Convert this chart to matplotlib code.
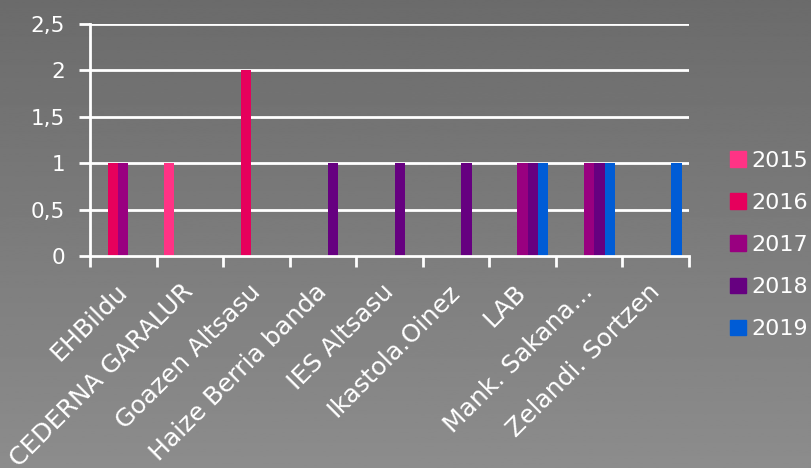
import numpy as np
import matplotlib
matplotlib.use("Agg")
import matplotlib.pyplot as plt
from matplotlib.patches import Patch

categories = ["EHBildu", "CEDERNA GARALUR", "Goazen Altsasu", "Haize Berria banda",
              "IES Altsasu", "Ikastola.Oinez", "LAB", "Mank. Sakana…", "Zelandi. Sortzen"]
years = ["2015", "2016", "2017", "2018", "2019"]
v2015 = [0, 1, 0, 0, 0, 0, 0, 0, 0]
v2016 = [1, 0, 2, 0, 0, 0, 0, 0, 0]
v2017 = [1, 0, 0, 0, 0, 0, 1, 1, 0]
v2018 = [0, 0, 0, 1, 1, 1, 1, 1, 0]
v2019 = [0, 0, 0, 0, 0, 0, 1, 1, 1]
series = [v2015, v2016, v2017, v2018, v2019]
colors = ["#ff3385", "#e6005c", "#990080", "#660080", "#005cd6"]
y_ticks = [0, 0.5, 1, 1.5, 2, 2.5]
y_labels = ["0", "0,5", "1", "1,5", "2", "2,5"]

plt.rcParams['font.family'] = ['DejaVu Sans']

fig = plt.figure(figsize=(8.12, 4.68), dpi=100)

# gradient background
bg = fig.add_axes([0, 0, 1, 1], zorder=-10)
grad = np.linspace(0.42, 0.55, 256).reshape(-1, 1)
bg.imshow(grad, aspect='auto', cmap='gray', vmin=0, vmax=1, extent=[0, 1, 1, 0])
bg.axis('off')

ax = fig.add_axes([90 / 812, 1 - 256 / 468, (689 - 90) / 812, (256 - 24) / 468])
ax.set_facecolor('none')

x = np.arange(len(categories))
w = 0.155
for i, (vals, c) in enumerate(zip(series, colors)):
    ax.bar(x + (i - 2) * w, vals, width=w, color=c, zorder=3)

ax.set_xlim(-0.5, len(categories) - 0.5)
ax.set_ylim(0, 2.5)
ax.set_yticks(y_ticks, y_labels)
for yv in y_ticks[1:]:
    ax.axhline(yv, color='white', lw=2, zorder=2)

ax.set_xticks(x)
ax.set_xticklabels(categories, rotation=45, ha='right', va='center',
                   rotation_mode='anchor', fontsize=18, color='white')
ax.tick_params(axis='x', which='major', length=0, pad=23)
ax.set_xticks(np.arange(len(categories) + 1) - 0.5, minor=True)
ax.tick_params(axis='x', which='minor', length=8, width=2, color='white', direction='out')
ax.tick_params(axis='y', length=8, width=2, color='white', labelcolor='white',
               labelsize=15.5, pad=10)

for s in ['top', 'right']:
    ax.spines[s].set_visible(False)
for s in ['left', 'bottom']:
    ax.spines[s].set_color('white')
    ax.spines[s].set_linewidth(2)
    ax.spines[s].set_zorder(4)

handles = [Patch(color=c) for c in colors]
fig.legend(handles, years, loc='center left', bbox_to_anchor=(730 / 812, 1 - 245 / 468),
           frameon=False, fontsize=16, labelcolor='white', handlelength=0.7,
           handleheight=0.7, handletextpad=0.25, labelspacing=1.0,
           borderpad=0, borderaxespad=0)

fig.savefig("out.png", dpi=100)
